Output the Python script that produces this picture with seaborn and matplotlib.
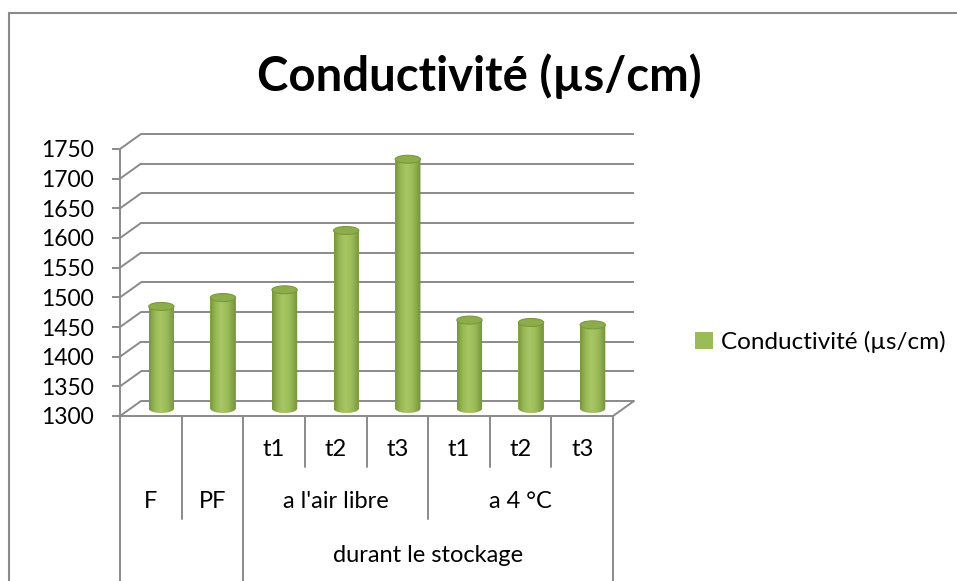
import numpy as np
import pandas as pd
import matplotlib
matplotlib.use("Agg")
import matplotlib.pyplot as plt
import seaborn as sns
from matplotlib.path import Path
from matplotlib.patches import PathPatch, Ellipse, Patch
from matplotlib.lines import Line2D
from matplotlib.colors import LinearSegmentedColormap

# ---- data -------------------------------------------------------------
title = "Conductivité (µs/cm)"
series_name = "Conductivité (µs/cm)"
level1 = ["", "", "t1", "t2", "t3", "t1", "t2", "t3"]
level2 = ["F", "PF", "a l'air libre", "a 4 °C"]
level2_spans = [(0, 0), (1, 1), (2, 4), (5, 7)]
level3 = ["durant le stockage"]
level3_spans = [(2, 7)]
values = [1472, 1487, 1500, 1600, 1720, 1449, 1445, 1441]
y_ticks = list(range(1300, 1800, 50))

# ---- style ------------------------------------------------------------
sns.set_style("white")
plt.rcParams["font.family"] = ["Lato", "DejaVu Sans"]
plt.rcParams["text.color"] = "black"

GRID = "#8a8a8a"
GREEN = "#9BBB59"
W, H = 957, 581

fig = plt.figure(figsize=(W / 100, H / 100), dpi=100)
fig.patch.set_facecolor("white")

# front plane of the 3-D plot area, in pixels
px_left, px_right, px_bottom, px_top = 120, 613, 416, 149
ax = fig.add_axes([px_left / W, 1 - px_bottom / H,
                   (px_right - px_left) / W, (px_bottom - px_top) / H])
ax.set_facecolor("none")

ymin, ymax = 1300, 1750
ppx = (px_right - px_left) / 8.0          # pixels per category
ppy = (px_bottom - px_top) / (ymax - ymin)  # pixels per value unit
dx = 21 / ppx                               # depth offset (x)
dv = 15 / ppy                               # depth offset (y)

df = pd.DataFrame({"pos": np.arange(len(values)), "val": values})
sns.barplot(data=df, x="pos", y="val", color=GREEN, width=0.41,
            saturation=1, ax=ax, zorder=5)

ax.set_xlim(-0.5, 7.5)
ax.set_ylim(ymin, ymax)
ax.set_xlabel("")
ax.set_ylabel("")
ax.set_xticks([])
ax.set_yticks(y_ticks)
ax.tick_params(axis="y", length=5.8, width=1.4, color=GRID, pad=13,
               labelsize=16.5, labelcolor="black", left=True)
for s in ["top", "right"]:
    ax.spines[s].set_visible(False)
for s in ["left", "bottom"]:
    ax.spines[s].set_color(GRID)
    ax.spines[s].set_linewidth(1.4)

# back wall, side wall and floor edges
for v in y_ticks:
    ax.plot([-0.5 + dx, 7.5 + dx], [v + dv, v + dv], color=GRID, lw=1.4,
            clip_on=False, zorder=1, solid_capstyle="butt")
    ax.plot([-0.5, -0.5 + dx], [v, v + dv], color=GRID, lw=1.4,
            clip_on=False, zorder=1)
ax.plot([7.5, 7.5 + dx], [ymin, ymin + dv], color=GRID, lw=1.4,
        clip_on=False, zorder=1)

# cylinders built on the seaborn bars
cmap = LinearSegmentedColormap.from_list(
    "cyl", [(0.0, "#76953a"), (0.22, "#98b857"), (0.45, "#a8c764"),
            (0.7, "#9aba58"), (1.0, "#739138")])
grad = np.linspace(0, 1, 256)[None, :]
base = ymin + dv / 2
eb_bot = 4.5 / ppy
eb_top = 4.0 / ppy
for p in ax.patches:
    top = p.get_height()
    w = p.get_width()
    x0 = p.get_x() + dx / 2
    x1 = x0 + w
    cx = x0 + w / 2
    p.set_x(x0)
    p.set_y(base)
    p.set_height(top + dv / 2 - base)
    p.set_linewidth(0)
    ytop = top + dv / 2
    t = np.linspace(np.pi, 2 * np.pi, 40)
    arc = np.column_stack([cx + (w / 2) * np.cos(t), base + eb_bot * np.sin(t)])
    verts = np.vstack([[[x0, ytop]], arc, [[x1, ytop]], [[x0, ytop]]])
    codes = [Path.MOVETO] + [Path.LINETO] * (len(verts) - 2) + [Path.CLOSEPOLY]
    body = PathPatch(Path(verts, codes), facecolor="none", edgecolor="none",
                     transform=ax.transData)
    ax.add_patch(body)
    body.set_clip_on(False)
    im = ax.imshow(grad, cmap=cmap, extent=[x0, x1, base - eb_bot, ytop],
                   aspect="auto", zorder=6, interpolation="bilinear")
    im.set_clip_path(body)
    ax.add_patch(Ellipse((cx, ytop), w, 2 * eb_top, facecolor="#8dad4b",
                         edgecolor="#7a983e", lw=0.8, zorder=7, clip_on=False))

ax.set_xlim(-0.5, 7.5)
ax.set_ylim(ymin, ymax)

# multi-level category labels below the floor
def fy(px):
    return 1 - px / H

def fx(xd):
    return (px_left + (xd + 0.5) * ppx) / W

sep_t, sep_m, sep_b = 467, 519, H
for i in range(9):
    xb = i - 0.5
    if i in (0, 2, 8):
        end = sep_b
    elif i in (1, 5):
        end = sep_m
    else:
        end = sep_t
    fig.add_artist(Line2D([fx(xb), fx(xb)], [fy(px_bottom), fy(end)],
                          color=GRID, lw=1.4))
for i, lab in enumerate(level1):
    if lab:
        fig.text(fx(i), fy(449), lab, ha="center", va="center", fontsize=17)
for lab, (a, b) in zip(level2, level2_spans):
    fig.text(fx((a + b) / 2), fy(501), lab, ha="center", va="center",
             fontsize=17)
for lab, (a, b) in zip(level3, level3_spans):
    fig.text(fx((a + b) / 2), fy(555), lab, ha="center", va="center",
             fontsize=17)

# chart title
fig.text(479 / W, fy(76), title, ha="center", va="center", fontsize=34,
         fontweight="bold")

# legend
fig.legend(handles=[Patch(facecolor=GREEN, edgecolor="none",
                          label=series_name)],
           loc="center left", bbox_to_anchor=(695 / W, fy(342)),
           frameon=False, fontsize=17.5, handlelength=0.75, handleheight=0.75,
           handletextpad=0.3, borderpad=0, borderaxespad=0)

# chart-area border (top and left edges)
fig.add_artist(Line2D([9 / W, 1], [fy(13), fy(13)], color=GRID, lw=1.5))
fig.add_artist(Line2D([9 / W, 9 / W], [fy(13), 0], color=GRID, lw=1.5))

fig.savefig("out.png", dpi=100, facecolor="white")
